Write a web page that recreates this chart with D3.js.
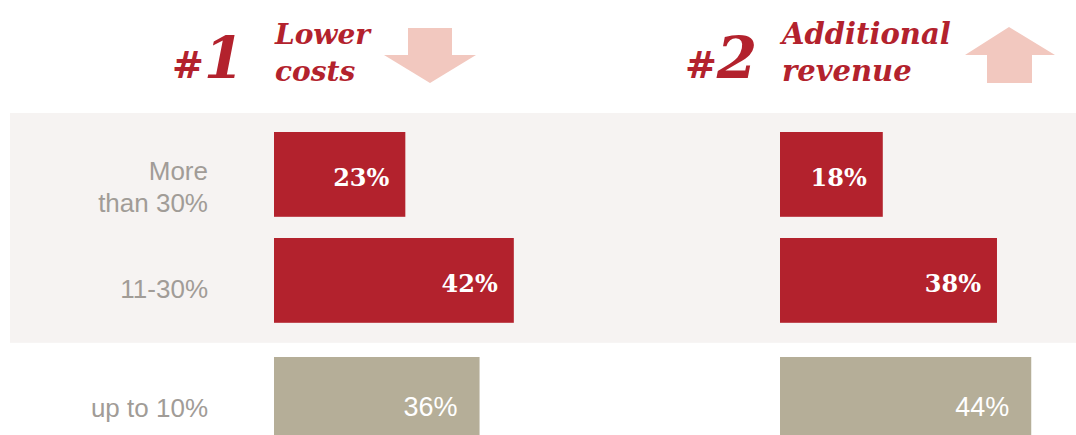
<!DOCTYPE html>
<html>
<head>
<meta charset="utf-8">
<script src="https://cdn.jsdelivr.net/npm/d3@7"></script>
<style>
  body { margin: 0; background: #fff; }
  svg { display: block; }
</style>
</head>
<body>
<div id="chart"></div>
<script>
// Chart data
const categories = ["More than 30%", "11-30%", "up to 10%"];
const highlighted = [true, true, false]; // rows sitting on the shaded panel
const lowerCosts = [23, 42, 36];
const additionalRevenue = [18, 38, 44];
const headers = [
  { rank: "1", title: ["Lower", "costs"], arrow: "down" },
  { rank: "2", title: ["Additional", "revenue"], arrow: "up" }
];

const w = 1076;
const h = 435;
const red = "#b3222d";
const beige = "#b5ae98";
const pink = "#f2c8bf";
const grey = "#a19c97";

const svg = d3.select("#chart")
  .append("svg")
  .attr("width", w)
  .attr("height", h)
  .attr("viewBox", [0, 0, w, h]);

// value scale shared by both columns
const x = d3.scaleLinear([0, 100], [0, 571]);

// rows: band scale (step 106) plus an extra gap after the shaded panel
const yBand = d3.scaleBand(categories, [132, 132 + 106 * 2.8]).paddingInner(0.2).paddingOuter(0);
const y = (c, i) => yBand(c) + (highlighted[i] ? 0 : 13);
const bh = yBand.bandwidth();

// shaded panel behind the highlighted rows
const hl = categories.filter((c, i) => highlighted[i]);
const panelTop = yBand(hl[0]) - 19;
svg.append("rect")
  .attr("x", 10)
  .attr("y", panelTop)
  .attr("width", w - 10)
  .attr("height", yBand(hl[hl.length - 1]) + bh + 20 - panelTop)
  .attr("fill", "#f6f3f2");

// category labels
const labels = svg.append("g")
  .attr("font-family", "Liberation Sans, Arial, sans-serif")
  .attr("font-size", 26)
  .attr("fill", grey)
  .attr("text-anchor", "end");

categories.forEach((c, i) => {
  const cy = y(c, i) + bh / 2;
  const t = labels.append("text").attr("x", 208);
  if (c === "More than 30%") {
    t.append("tspan").attr("x", 208).attr("y", cy + 6).text("More");
    t.append("tspan").attr("x", 208).attr("y", cy + 38).text("than 30%");
  } else {
    t.attr("y", cy + 18).text(c);
  }
});

// bar columns
const columns = [
  { x0: 274, values: lowerCosts },
  { x0: 780, values: additionalRevenue }
];

columns.forEach((col, k) => {
  const g = svg.append("g").attr("transform", `translate(${col.x0},0)`);

  g.selectAll("rect")
    .data(col.values)
    .join("rect")
    .attr("x", x(0))
    .attr("y", (d, i) => y(categories[i], i))
    .attr("width", d => x(d))
    .attr("height", bh)
    .attr("fill", (d, i) => highlighted[i] ? red : beige);

  g.selectAll("text")
    .data(col.values)
    .join("text")
    .attr("x", (d, i) => x(d) - (highlighted[i] ? 16 : 22))
    .attr("y", (d, i) => y(categories[i], i) + bh / 2 + (highlighted[i] ? 12 : 17))
    .attr("text-anchor", "end")
    .attr("fill", "#fff")
    .attr("font-family", (d, i) => highlighted[i] ? "DejaVu Serif, Georgia, serif" : "Liberation Sans, Arial, sans-serif")
    .attr("font-weight", (d, i) => highlighted[i] ? "bold" : "normal")
    .attr("font-size", (d, i) => highlighted[i] ? 24 : 27)
    .text(d => d + "%");
});

// headers
const headerX = [
  { num: 172, title: 275, arrow: 430 },
  { num: 685, title: 782, arrow: 1009 }
];

headers.forEach((hd, k) => {
  const pos = headerX[k];
  const g = svg.append("g")
    .attr("font-family", "DejaVu Serif, Georgia, serif")
    .attr("font-weight", "bold")
    .attr("font-style", "italic")
    .attr("fill", red);

  const n = g.append("text").attr("x", pos.num).attr("y", 78);
  n.append("tspan").attr("font-size", 38).text("#");
  n.append("tspan").attr("font-size", 58).text(hd.rank);

  g.append("text")
    .attr("x", pos.title)
    .attr("font-size", k === 0 ? 28 : 29)
    .selectAll("tspan")
    .data(hd.title)
    .join("tspan")
    .attr("x", pos.title)
    .attr("y", (d, i) => 44 + i * 37)
    .text(d => d);

  // arrow
  const down = [[-22, 0], [22, 0], [22, 27], [46, 27], [0, 55], [-46, 27], [-22, 27]];
  const up = [[0, 0], [46, 28], [23, 28], [23, 56], [-22, 56], [-22, 28], [-44, 28]];
  const pts = hd.arrow === "down" ? down : up;
  svg.append("path")
    .attr("transform", `translate(${pos.arrow},${hd.arrow === "down" ? 28 : 27})`)
    .attr("d", d3.line()(pts) + "Z")
    .attr("fill", pink);
});
</script>
</body>
</html>
